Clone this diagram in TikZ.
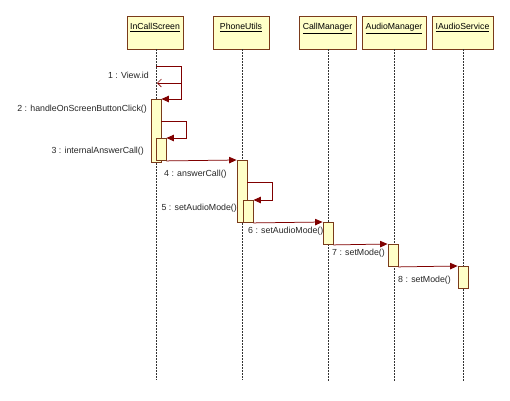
\documentclass[tikz,border=0pt]{standalone}
\usepackage{fontspec}
\setmainfont{Liberation Sans}
\usetikzlibrary{arrows.meta}
\definecolor{boxfill}{HTML}{FFFFC8}
\definecolor{boxline}{HTML}{7A3A1A}
\definecolor{msgcol}{HTML}{800000}
\tikzset{
  hdr/.style={draw=boxline, fill=boxfill, line width=0.9pt, minimum height=33pt, inner sep=0pt, text height=7pt, text depth=13pt, font=\fontsize{8.7}{10}\selectfont, anchor=center},
  actbox/.style={draw=boxline, fill=boxfill, line width=0.9pt, minimum width=10pt, inner sep=0pt, anchor=north},
  life/.style={draw=black!80, line width=0.6pt, dash pattern=on 1.5pt off 1.5pt},
  msg/.style={draw=msgcol, line width=0.75pt, -{Triangle[length=7.5pt,width=6.5pt]}},
  ret/.style={draw=msgcol, line width=0.6pt, -{Straight Barb[length=4pt,width=8pt]}},
  lbl/.style={font=\fontsize{8.8}{10}\selectfont, text=black!85, inner sep=0pt},
}
\begin{document}
\begin{tikzpicture}[x=1pt,y=-1pt]
\useasboundingbox (0,0) rectangle (510,400);
% headers
\node[hdr, minimum width=56pt] (h1) at (155,32.5) {\underline{InCallScreen}};
\node[hdr, minimum width=56pt] (h2) at (241,32.5) {\underline{PhoneUtils}};
\node[hdr, minimum width=57pt] (h3) at (327.5,32.5) {\underline{CallManager}};
\node[hdr, minimum width=64pt] (h4) at (394,32.5) {\underline{AudioManager}};
\node[hdr, minimum width=61pt] (h5) at (462.5,32.5) {\underline{IAudioService}};
% lifeline ends
\coordinate (e1) at (156,380);
\coordinate (e2) at (242,380);
\coordinate (e3) at (328,382);
\coordinate (e4) at (394,382);
\coordinate (e5) at (463,382);
\draw[life] (h1.south -| e1) -- (e1);
\draw[life] (h2.south -| e2) -- (e2);
\draw[life] (h3.south -| e3) -- (e3);
\draw[life] (h4.south -| e4) -- (e4);
\draw[life] (h5.south -| e5) -- (e5);
% labels (drawn before activations so boxes may cover them)
\node[lbl, anchor=east] (t1) at (149,75) {1 : View.id};
\node[lbl, anchor=east] (t2) at (147,109) {2 : handleOnScreenButtonClick()};
\node[lbl, anchor=east] (t3) at (144,151) {3 : internalAnswerCall()};
\node[lbl, anchor=west] (t4) at (164,174) {4 : answerCall()};
\node[lbl, anchor=east] (t5) at (237,208) {5 : setAudioMode()};
\node[lbl, anchor=west] (t6) at (248,231) {6 : setAudioMode()};
\node[lbl, anchor=west] (t7) at (332,253) {7 : setMode()};
\node[lbl, anchor=west] (t8) at (398,280) {8 : setMode()};
% activations
\node[actbox, minimum height=63pt] (a1) at (156,99) {};
\node[actbox, minimum height=22pt] (a2) at (161,138) {};
\node[actbox, minimum height=62pt] (a3) at (242,160) {};
\node[actbox, minimum height=22pt] (a4) at (248,200) {};
\node[actbox, minimum height=22pt] (a5) at (328,222) {};
\node[actbox, minimum height=22pt] (a6) at (393,244) {};
\node[actbox, minimum height=22pt] (a7) at (463,266) {};
% message 1
\coordinate (s1) at (156,66);
\coordinate (r1) at (181,83);
\draw[msg] (s1) -- (181,66) -- (181,99) -- (a1.north east);
\draw[ret] (r1) -- (157,83);
% message 2
\draw[msg] (a1.east |- 0,121) -- (186,121) -- (186,138) -- (a2.north east);
% message 4
\draw[msg] (a2.south east) -- (a3.north west);
% message 5
\draw[msg] (a3.east |- 0,182) -- (272,182) -- (272,200) -- (a4.north east);
% messages 6-8
\draw[msg] (a4.south east) -- (a5.north west);
\draw[msg] (a5.south east) -- (a6.north west);
\draw[msg] (a6.south east) -- (a7.north west);
\end{tikzpicture}
\end{document}
